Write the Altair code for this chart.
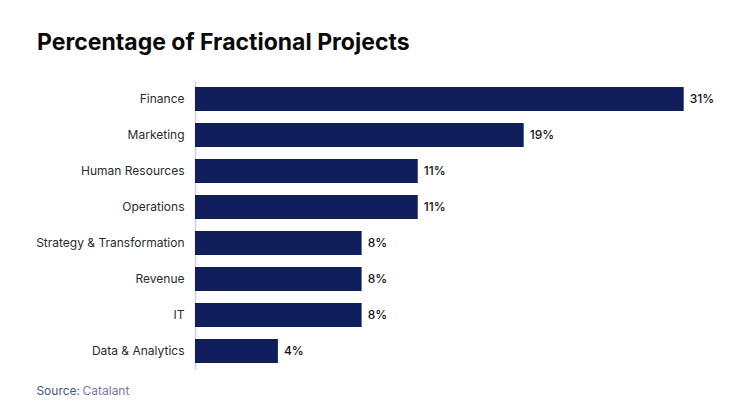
import altair as alt
import pandas as pd

categories = ["Finance", "Marketing", "Human Resources", "Operations",
              "Strategy & Transformation", "Revenue", "IT", "Data & Analytics"]
# bar lengths (in % units, Finance = 31)
bar_values = [31.0, 20.85, 14.13, 14.13, 10.57, 10.57, 10.57, 5.26]
# printed value labels
value_labels = ["31%", "19%", "11%", "11%", "8%", "8%", "8%", "4%"]

df = pd.DataFrame({"category": categories, "value": bar_values, "label": value_labels})

FONT = "Inter"
NAVY = "#101f5b"
W, H = 525, 288

y_enc = alt.Y("category:N", sort=categories, title=None,
              scale=alt.Scale(paddingInner=0.34, paddingOuter=0.17),
              axis=alt.Axis(ticks=False, labelPadding=11, labelFontSize=12,
                            labelFont=FONT, labelColor="#2b2b2b",
                            domainColor="#c9d0ea", domainWidth=1.5, grid=False))
x_enc = alt.X("value:Q", title=None, axis=None,
              scale=alt.Scale(domain=[0, 31.0 * W / 488.7], nice=False, zero=True))

bars = alt.Chart(df).mark_bar(color=NAVY).encode(x=x_enc, y=y_enc)

labels = alt.Chart(df).mark_text(align="left", baseline="middle", dx=6,
                                 fontSize=12, fontWeight=500, font=FONT,
                                 color="#111111").encode(
    x=x_enc, y=y_enc, text="label:N")

src_df = pd.DataFrame({"a": ["Source:"], "b": ["Catalant"]})
src1 = alt.Chart(src_df).mark_text(align="left", baseline="alphabetic", fontSize=12,
                                   font=FONT, color="#4a5578").encode(
    x=alt.value(-158.6), y=alt.value(314.3), text="a:N")
src2 = alt.Chart(src_df).mark_text(align="left", baseline="alphabetic", fontSize=12,
                                   font=FONT, color="#7479a6").encode(
    x=alt.value(-112.5), y=alt.value(314.3), text="b:N")

chart = alt.layer(bars, labels, src1, src2).properties(
    width=W, height=H,
    background="white",
    title=alt.TitleParams("Percentage of Fractional Projects", anchor="start",
                          frame="group", dx=-158, offset=8, baseline="alphabetic",
                          fontSize=23, fontWeight="bold", font=FONT, color="#0a0a0a"),
    autosize=alt.AutoSizeParams(type="none"),
    padding={"left": 187, "top": 73, "right": 20, "bottom": 40},
).configure_view(strokeWidth=0, stroke=None)

chart.save("out.html", embed_options={"renderer": "svg", "actions": False})
